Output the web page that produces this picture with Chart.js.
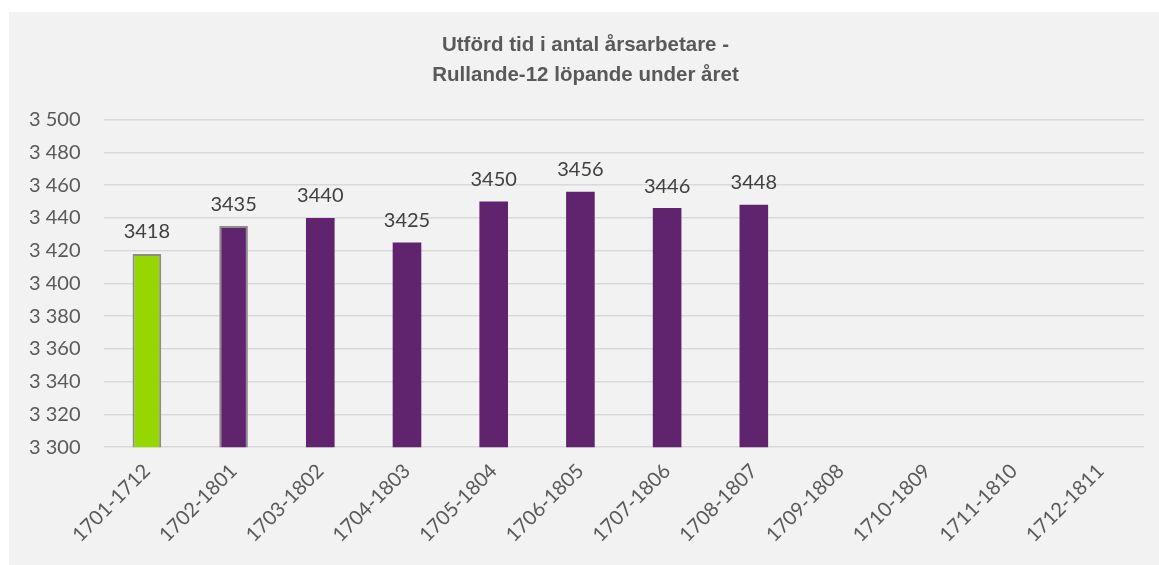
<!DOCTYPE html>
<html>
<head>
<meta charset="utf-8">
<script src="https://cdn.jsdelivr.net/npm/chart.js@4"></script>
<style>
  body { margin: 0; background: #ffffff; }
  #box { position: absolute; left: 9px; top: 12px; width: 1150px; height: 553px; background: #f2f2f2; }
</style>
</head>
<body>
<div id="box"><canvas id="arsChart" width="1150" height="553"></canvas></div>
<script>
// Rullande-12 perioder och värden
const perioder = ['1701-1712', '1702-1801', '1703-1802', '1704-1803', '1705-1804', '1706-1805',
                  '1707-1806', '1708-1807', '1709-1808', '1710-1809', '1711-1810', '1712-1811'];
const arsarbetare = [3418, 3435, 3440, 3425, 3450, 3456, 3446, 3448, null, null, null, null];
const yMin = 3300;
const yMax = 3500;
const yStep = 20;

const barColors = perioder.map((p, i) => i === 0 ? '#97d700' : '#60246f');
const borderColors = perioder.map((p, i) => i < 2 ? '#8c8c8c' : 'rgba(0,0,0,0)');
const borderWidths = perioder.map((p, i) => i < 2 ? 2 : 0);

// enkla etiketter ovanför staplarna
const valueLabels = {
    id: 'valueLabels',
    afterDatasetsDraw(chart) {
        const ctx = chart.ctx;
        const meta = chart.getDatasetMeta(0);
        ctx.save();
        ctx.font = '20px Lato, "Open Sans", sans-serif';
        ctx.fillStyle = '#404040';
        ctx.textAlign = 'center';
        ctx.textBaseline = 'bottom';
        meta.data.forEach((bar, i) => {
            const v = chart.data.datasets[0].data[i];
            if (v == null) return;
            ctx.fillText(String(v), bar.x, bar.y - 12);
        });
        ctx.restore();
    }
};

const ctx = document.getElementById('arsChart').getContext('2d');
new Chart(ctx, {
    type: 'bar',
    data: {
        labels: perioder,
        datasets: [{
            data: arsarbetare,
            backgroundColor: barColors,
            borderColor: borderColors,
            borderWidth: borderWidths,
            barPercentage: 0.33,
            categoryPercentage: 1.0
        }]
    },
    options: {
        responsive: false,
        animation: false,
        layout: { padding: { left: 18, right: 15, top: 0, bottom: 6 } },
        plugins: {
            legend: { display: false },
            tooltip: { enabled: false },
            title: {
                display: true,
                text: ['Utförd tid i antal årsarbetare -', 'Rullande-12 löpande under året'],
                color: '#595959',
                font: { family: '"Liberation Sans", Arial, sans-serif', size: 20.5, weight: 'bold', lineHeight: 1.48 },
                padding: { top: 18, bottom: 29 }
            }
        },
        scales: {
            x: {
                grid: { display: false, drawTicks: false },
                border: { display: false },
                ticks: {
                    color: '#595959',
                    font: { family: 'Lato, "Open Sans", sans-serif', size: 20 },
                    minRotation: 45,
                    maxRotation: 45,
                    autoSkip: false,
                    padding: 12
                }
            },
            y: {
                min: yMin,
                max: yMax,
                grid: { color: '#d9d9d9', lineWidth: 1.5, drawTicks: false },
                border: { display: false },
                // tick-avståndet räknas dubbelt i bredden, ta bort överskottet
                afterFit: s => { s.width = s.width - 21; },
                ticks: {
                    stepSize: yStep,
                    color: '#595959',
                    font: { family: 'Lato, "Open Sans", sans-serif', size: 20 },
                    padding: 23,
                    callback: v => String(v).replace(/\B(?=(\d{3})+(?!\d))/g, ' ')
                }
            }
        }
    },
    plugins: [valueLabels]
});
</script>
</body>
</html>
